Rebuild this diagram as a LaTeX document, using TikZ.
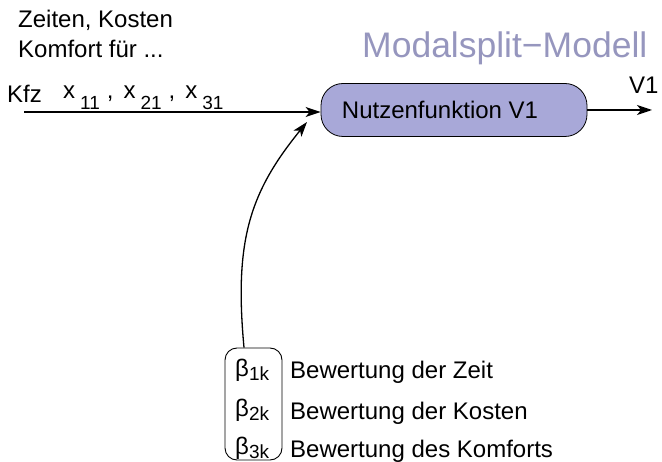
\documentclass[tikz,border=0pt]{standalone}
\usepackage{fontspec}
\setmainfont{Liberation Sans}
\usetikzlibrary{arrows.meta}
\definecolor{titlecol}{RGB}{150,150,190}
\definecolor{nodefill}{RGB}{168,168,216}
\newcommand{\fsz}{\fontsize{24bp}{28bp}\selectfont}
\newcommand{\sbx}[1]{\raisebox{-0.42em}{\fontsize{19bp}{19bp}\selectfont #1}}
\newcommand{\sbb}[1]{\raisebox{-0.2em}{\fontsize{19bp}{19bp}\selectfont #1}}
\begin{document}
\begin{tikzpicture}[x=1bp,y=-1bp,
  txt/.style={inner sep=0pt, anchor=base west, font=\fsz},
  arr/.style={line width=1.3bp, -{Stealth[length=15bp,width=10bp,inset=4bp]}}]
\useasboundingbox (0,0) rectangle (662,462);
\node[txt] (zk) at (18,28) {Zeiten, Kosten};
\node[txt] (kf) at (18,58) {Komfort für ...};
\node[txt] (kfz) at (7,103) {Kfz};
\node[txt] (xs) at (63,99) {x\hspace{5bp}\sbx{11}\hspace{7bp},\hspace{10bp}x\hspace{5bp}\sbx{21}\hspace{7bp},\hspace{10bp}x\hspace{5bp}\sbx{31}};
\node[inner sep=0pt, anchor=base west, font=\fontsize{35.5bp}{40bp}\selectfont, text=titlecol] (title) at (362,58) {Modalsplit\char"2212 Modell};
\node[draw, line width=0.8bp, fill=nodefill, rounded corners=22bp, minimum width=266bp, minimum height=53bp, font=\fsz] (nf) at (454,110) {Nutzenfunktion V1\kern28bp};
\coordinate (in) at (24,112);
\draw[arr] (in) -- (in -| nf.west);
\coordinate (out) at (652,110);
\draw[arr] (nf.east) -- (out);
\node[txt] (v1) at (629,94) {V1};
\node[draw, rounded corners=12bp, minimum width=57bp, minimum height=112bp, line width=0.9bp, inner sep=0pt] (br) at (253.5,404) {};
\node[txt] (b1) at (235,376) {β\sbb{1k}};
\node[txt] (b2) at (235,416) {β\sbb{2k}};
\node[txt] (b3) at (235,454) {β\sbb{3k}};
\node[txt] (t1) at (290,378) {Bewertung der Zeit};
\node[txt] (t2) at (290,419) {Bewertung der Kosten};
\node[txt] (t3) at (290,457) {Bewertung des Komforts};
\coordinate (tipb) at (307,122);
\draw[arr] ([xshift=-9.5bp]br.north) .. controls (234,240) and (250,192) .. (tipb);
\end{tikzpicture}
\end{document}
